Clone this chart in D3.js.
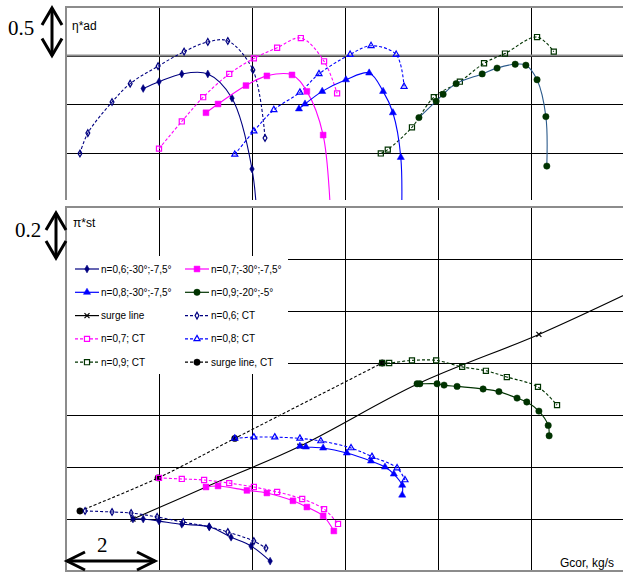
<!DOCTYPE html>
<html><head><meta charset="utf-8">
<script src="https://cdn.jsdelivr.net/npm/d3@7"></script>
<style>
html,body{margin:0;padding:0;background:#fff;}
svg{display:block;}
</style></head>
<body>
<svg id="chart" width="623" height="574"></svg>
<script>
// ---------- DATA ----------
// Top panel: adiabatic efficiency η*ad vs corrected mass flow Gcor
const etaN06G   = [1.66, 2.00, 2.49, 3.05, 3.57, 4.00, 4.13];
const etaN06    = [1.16, 1.23, 1.31, 1.31, 1.06, 0.33, -0.40];
const etaN07G   = [3.01, 3.27, 3.87, 4.32, 4.86, 5.18, 5.53, 5.70];
const etaN07    = [0.91, 1.00, 1.19, 1.29, 1.30, 1.13, 0.68, -0.25];
const etaN08G   = [5.01, 5.14, 5.51, 6.02, 6.52, 6.82, 7.03, 7.20, 7.21];
const etaN08    = [0.95, 1.00, 1.13, 1.25, 1.32, 1.13, 0.91, 0.45, -0.30];
const etaN09G   = [7.59, 7.96, 8.11, 8.39, 8.95, 9.27, 9.66, 9.89, 10.13, 10.32, 10.34];
const etaN09    = [0.86, 1.03, 1.10, 1.21, 1.31, 1.37, 1.41, 1.40, 1.25, 0.87, 0.36];
const etaN06CTG = [0.30, 0.47, 0.99, 1.38, 1.98, 2.54, 3.05, 3.48, 4.02, 4.28];
const etaN06CT  = [0.49, 0.70, 1.02, 1.21, 1.39, 1.54, 1.64, 1.65, 1.35, 0.65];
const etaN07CTG = [2.00, 2.49, 2.95, 3.51, 4.04, 4.54, 5.05, 5.55, 5.83];
const etaN07CT  = [0.54, 0.82, 1.07, 1.31, 1.47, 1.58, 1.68, 1.44, 1.11];
const etaN08CTG = [3.63, 4.04, 4.47, 5.03, 5.44, 6.11, 6.56, 7.10, 7.27];
const etaN08CT  = [0.48, 0.72, 0.94, 1.12, 1.31, 1.51, 1.60, 1.51, 1.18];
const etaN09CTG = [6.77, 6.92, 7.44, 7.91, 8.47, 8.99, 9.44, 10.13, 10.49];
const etaN09CT  = [0.49, 0.53, 0.76, 1.07, 1.23, 1.42, 1.52, 1.69, 1.54];

// Bottom panel: static pressure ratio π*st vs Gcor
const piN06G   = [1.44, 1.66, 2.00, 2.49, 3.08, 3.55, 3.98, 4.39];
const piN06    = [0.200, 0.200, 0.192, 0.180, 0.170, 0.130, 0.096, 0.038];
const piN07G   = [3.01, 3.27, 3.89, 4.32, 4.88, 5.18, 5.53, 5.76];
const piN07    = [0.323, 0.327, 0.310, 0.300, 0.270, 0.246, 0.212, 0.154];
const piN08G   = [5.03, 5.16, 5.53, 6.04, 6.56, 6.86, 7.05, 7.23, 7.23];
const piN08    = [0.480, 0.477, 0.473, 0.454, 0.423, 0.400, 0.373, 0.330, 0.292];
const piN09G   = [7.55, 7.61, 7.98, 8.13, 8.41, 8.97, 9.31, 9.70, 9.91, 10.17, 10.37, 10.39];
const piN09    = [0.720, 0.720, 0.720, 0.715, 0.710, 0.700, 0.690, 0.665, 0.650, 0.615, 0.560, 0.520];
const piSurgeG = [1.44, 3.01, 5.03, 7.57, 10.17, 12.34];
const piSurge  = [0.200, 0.323, 0.480, 0.720, 0.910, 1.090];
const piN06CTG = [0.41, 0.99, 1.40, 1.96, 2.52, 3.08, 3.48, 4.04, 4.30];
const piN06CT  = [0.231, 0.227, 0.223, 0.208, 0.188, 0.170, 0.150, 0.115, 0.088];
const piN07CTG = [2.00, 2.49, 2.97, 3.51, 4.04, 4.54, 5.08, 5.55, 5.85];
const piN07CT  = [0.358, 0.354, 0.350, 0.338, 0.323, 0.304, 0.277, 0.238, 0.181];
const piN08CTG = [3.63, 4.04, 4.49, 5.03, 5.48, 6.13, 6.58, 7.12, 7.29];
const piN08CT  = [0.510, 0.515, 0.515, 0.510, 0.500, 0.473, 0.440, 0.396, 0.350];
const piN09CTG = [6.80, 6.95, 7.44, 7.96, 8.52, 9.03, 9.48, 10.15, 10.56];
const piN09CT  = [0.800, 0.800, 0.810, 0.810, 0.785, 0.770, 0.746, 0.708, 0.638];
const piSurgeCTG = [0.30, 1.98, 3.63, 6.80];
const piSurgeCT  = [0.231, 0.358, 0.510, 0.800];

// Legend labels (in legend order)
const legendLabels = ["n=0,6;-30°;-7,5°", "n=0,7;-30°;-7,5°", "n=0,8;-30°;-7,5°", "n=0,9;-20°;-5°",
  "surge line", "n=0,6; CT", "n=0,7; CT", "n=0,8; CT", "n=0,9; CT", "surge line, CT"];

// Grid ticks
const xTicks = [2, 4, 6, 8, 10];
const topTicks = [0.5, 1.0, 1.5];
const botTicks = [0.2, 0.4, 0.6, 0.8, 1.0, 1.2];

// ---------- STYLES ----------
const styles = {
  n06:   {color:"#000080", dash:null,  sym:d3.symbolDiamond, size:18, fill:true},
  n07:   {color:"#FF00FF", dash:null,  sym:d3.symbolSquare,  size:34, fill:true},
  n08:   {color:"#0000FF", dash:null,  sym:d3.symbolTriangle,size:22, fill:true},
  n09:   {color:"#003300", dash:null,  sym:d3.symbolCircle,  size:32, fill:true},
  surge: {color:"#000000", dash:null,  sym:d3.symbolTimes,   size:18, fill:false},
  n06CT: {color:"#000080", dash:"3,2", sym:d3.symbolDiamond, size:13, fill:false},
  n07CT: {color:"#FF00FF", dash:"3,2", sym:d3.symbolSquare,  size:26, fill:false},
  n08CT: {color:"#0000FF", dash:"3,2", sym:d3.symbolTriangle,size:16, fill:false},
  n09CT: {color:"#003300", dash:"3,2", sym:d3.symbolSquare,  size:26, fill:false},
  surgeCT:{color:"#000000",dash:"3,2", sym:d3.symbolCircle,  size:32, fill:true}
};
const legendKeys = ["n06","n07","n08","n09","surge","n06CT","n07CT","n08CT","n09CT","surgeCT"];

const zip = (a, b) => a.map((v, i) => [v, b[i]]);

const topSeries = [
  {key:"n06CT", pts:zip(etaN06CTG, etaN06CT)},
  {key:"n07CT", pts:zip(etaN07CTG, etaN07CT)},
  {key:"n08CT", pts:zip(etaN08CTG, etaN08CT)},
  {key:"n09CT", pts:zip(etaN09CTG, etaN09CT)},
  {key:"n06", pts:zip(etaN06G, etaN06)},
  {key:"n07", pts:zip(etaN07G, etaN07)},
  {key:"n08", pts:zip(etaN08G, etaN08)},
  {key:"n09", pts:zip(etaN09G, etaN09), lineColor:"#2c5b8c"}
];
const botSeries = [
  {key:"surgeCT", pts:zip(piSurgeCTG, piSurgeCT)},
  {key:"surge", pts:zip(piSurgeG, piSurge)},
  {key:"n06CT", pts:zip(piN06CTG, piN06CT)},
  {key:"n07CT", pts:zip(piN07CTG, piN07CT)},
  {key:"n08CT", pts:zip(piN08CTG, piN08CT)},
  {key:"n09CT", pts:zip(piN09CTG, piN09CT)},
  {key:"n06", pts:zip(piN06G, piN06)},
  {key:"n07", pts:zip(piN07G, piN07)},
  {key:"n08", pts:zip(piN08G, piN08)},
  {key:"n09", pts:zip(piN09G, piN09)}
];

// ---------- LAYOUT ----------
const svg = d3.select("#chart");
const x = d3.scaleLinear().domain([0, 12]).range([66, 624]);
const yTop = d3.scaleLinear().domain([0, 2]).range([201, 7]);
const yBot = d3.scaleLinear().domain([0, 1.4]).range([571, 207]);

const defs = svg.append("defs");
defs.append("clipPath").attr("id","clipTop").append("rect")
  .attr("x", 66).attr("y", 7).attr("width", 560).attr("height", 193);
defs.append("clipPath").attr("id","clipBot").append("rect")
  .attr("x", 66).attr("y", 207).attr("width", 560).attr("height", 364);

function drawGrid(yScale, ticks, yTopPx, yBotPx) {
  const g = svg.append("g").attr("shape-rendering","crispEdges");
  const gx = g.append("g").attr("transform", `translate(0,${yBotPx})`)
    .call(d3.axisBottom(x).tickValues(xTicks).tickSize(-(yBotPx - yTopPx)).tickFormat(""));
  gx.select(".domain").remove();
  gx.selectAll(".tick line").attr("stroke", "#000").attr("stroke-width", 1);
  const gy = g.append("g").attr("transform", `translate(66,0)`)
    .call(d3.axisLeft(yScale).tickValues(ticks).tickSize(-560).tickFormat(""));
  gy.select(".domain").remove();
  gy.selectAll(".tick line").attr("stroke", "#000").attr("stroke-width", 1);
  return g;
}

drawGrid(yTop, topTicks, 7, 200);
drawGrid(yBot, botTicks, 207, 571);

// panel borders (gray)
const gray = "#8c8c8c";
const bg = svg.append("g").attr("stroke", gray).attr("stroke-width", 2);
bg.append("line").attr("x1",65).attr("x2",623).attr("y1",yTop(2)).attr("y2",yTop(2));
bg.append("line").attr("x1",66).attr("x2",66).attr("y1",6).attr("y2",200);
bg.append("line").attr("x1",65).attr("x2",623).attr("y1",yBot(1.4)).attr("y2",yBot(1.4));
bg.append("line").attr("x1",66).attr("x2",66).attr("y1",206).attr("y2",572);
bg.append("line").attr("x1",65).attr("x2",623).attr("y1",yBot(0)).attr("y2",yBot(0));
bg.append("line").attr("x1",66).attr("x2",623).attr("y1",yTop(1.5)).attr("y2",yTop(1.5));

// ---------- SERIES ----------
function drawSeries(list, yScale, clipId) {
  const g = svg.append("g").attr("clip-path", `url(#${clipId})`);
  const line = d3.line().x(d => x(d[0])).y(d => yScale(d[1])).curve(d3.curveCatmullRom.alpha(0.5));
  list.forEach(s => {
    const st = styles[s.key];
    g.append("path").attr("d", line(s.pts)).attr("fill","none")
      .attr("stroke", s.lineColor || st.color).attr("stroke-width", 1.1)
      .attr("stroke-dasharray", st.dash);
    g.selectAll(null).data(s.pts).enter().append("path")
      .attr("transform", d => `translate(${x(d[0])},${yScale(d[1])})`)
      .attr("d", d3.symbol().type(st.sym).size(st.size))
      .attr("fill", st.fill ? st.color : "none")
      .attr("stroke", st.color).attr("stroke-width", st.fill ? 0.5 : 1.2);
  });
}
drawSeries(topSeries, yTop, "clipTop");
drawSeries(botSeries, yBot, "clipBot");

// ---------- LEGEND ----------
const leg = svg.append("g");
leg.append("rect").attr("x",67).attr("y",256).attr("width",221).attr("height",118).attr("fill","#fff");
legendKeys.forEach((k, i) => {
  const st = styles[k];
  const col = i % 2, row = Math.floor(i / 2);
  const lx = col === 0 ? 75 : 185;
  const ly = 269 + row * 23.3;
  leg.append("line").attr("x1",lx).attr("x2",lx+24).attr("y1",ly).attr("y2",ly)
    .attr("stroke", st.color).attr("stroke-width",1.2).attr("stroke-dasharray", st.dash);
  leg.append("path").attr("transform",`translate(${lx+12},${ly})`)
    .attr("d", d3.symbol().type(st.sym).size(st.size))
    .attr("fill", st.fill ? st.color : "#fff").attr("stroke", st.color).attr("stroke-width", st.fill?0.5:1.2);
  leg.append("text").attr("x", lx+26).attr("y", ly+3.5)
    .attr("font-family","Liberation Sans, Arial, sans-serif").attr("font-size",10)
    .attr("fill","#000").text(legendLabels[i]);
});

// ---------- LABELS ----------
const sans = "Liberation Sans, Arial, sans-serif";
const serif = "Liberation Serif, Times New Roman, serif";
svg.append("text").attr("x",72).attr("y",30).attr("font-family",sans).attr("font-size",12).text("η*ad");
svg.append("text").attr("x",73).attr("y",227).attr("font-family",sans).attr("font-size",12).text("π*st");
svg.append("text").attr("x",560).attr("y",567).attr("font-family",sans).attr("font-size",12).text("Gcor, kg/s");
svg.append("text").attr("x",8).attr("y",35).attr("font-family",serif).attr("font-size",21).text("0.5");
svg.append("text").attr("x",15).attr("y",237).attr("font-family",serif).attr("font-size",21).text("0.2");
svg.append("text").attr("x",97).attr("y",552).attr("font-family",serif).attr("font-size",21).text("2");

// scale arrows
function arrowV(cx, y1, y2) {
  const g = svg.append("g").attr("stroke","#000").attr("stroke-width",3).attr("fill","none");
  g.append("line").attr("x1",cx).attr("x2",cx).attr("y1",y1).attr("y2",y2);
  g.append("polyline").attr("points",`${cx-10},${y1+17} ${cx},${y1} ${cx+10},${y1+17}`);
  g.append("polyline").attr("points",`${cx-10},${y2-17} ${cx},${y2} ${cx+10},${y2-17}`);
}
function arrowH(cy, x1, x2) {
  const g = svg.append("g").attr("stroke","#000").attr("stroke-width",3).attr("fill","none");
  g.append("line").attr("x1",x1).attr("x2",x2).attr("y1",cy).attr("y2",cy);
  g.append("polyline").attr("points",`${x1+18},${cy-9} ${x1},${cy} ${x1+18},${cy+9}`);
  g.append("polyline").attr("points",`${x2-18},${cy-9} ${x2},${cy} ${x2-18},${cy+9}`);
}
arrowV(52, yTop(2) + 1, yTop(1.5));
arrowV(56, 213, yBot(1.2) - 1);
arrowH(561, x(0) + 1, x(2) - 4);
</script>
</body></html>
